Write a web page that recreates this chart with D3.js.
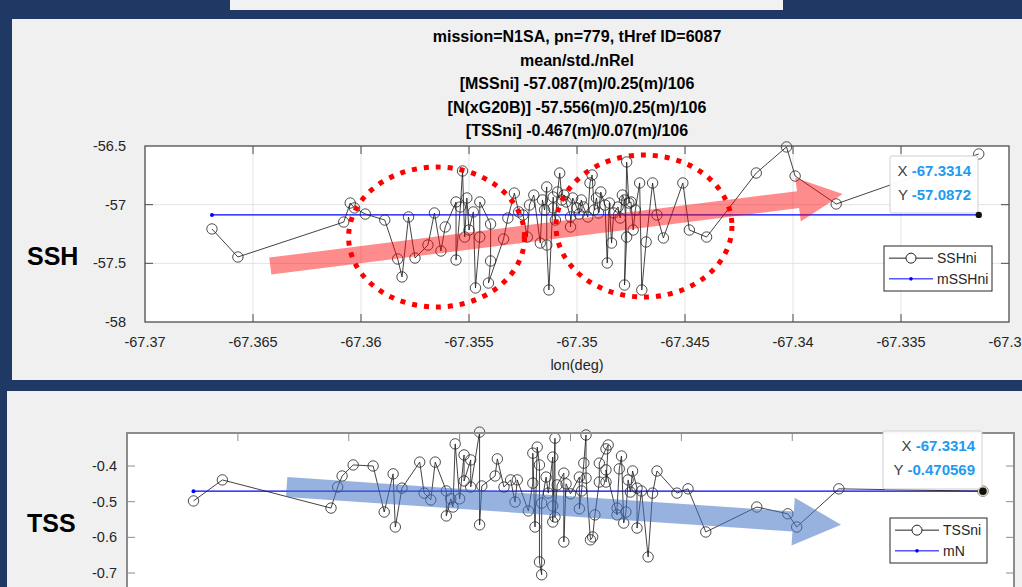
<!DOCTYPE html>
<html>
<head>
<meta charset="utf-8">
<script src="https://cdn.jsdelivr.net/npm/d3@7"></script>
<style>
  html, body { margin: 0; padding: 0; background: #1f3864; }
  svg { display: block; font-family: "Liberation Sans", Arial, sans-serif; }
</style>
</head>
<body>
<div id="chart"></div>
<script>
// ---- data ----
const lonSSH = [-67.3669,-67.3657,-67.3608,-67.3605,-67.3603,-67.3598,-67.3589,-67.3583,-67.3581,-67.3578,
  -67.3575,-67.3569,-67.3566,-67.3563,-67.3561,-67.3556,-67.3556,-67.3554,-67.3553,-67.3552,
  -67.3551,-67.3550,-67.3548,-67.3547,-67.3545,-67.3545,-67.3540,-67.3540,-67.3541,-67.3534,
  -67.3532,-67.3529,-67.3527,-67.3525,-67.3523,-67.3522,-67.3520,-67.3517,-67.3516,-67.3515,
  -67.3514,-67.3514,-67.3513,-67.3511,-67.3511,-67.3510,-67.3509,-67.3508,-67.3507,-67.3506,
  -67.3505,-67.3503,-67.3503,-67.3502,-67.3500,-67.3499,-67.3498,-67.3497,-67.3495,-67.3494,
  -67.3493,-67.3492,-67.3491,-67.3490,-67.3489,-67.3487,-67.3486,-67.3485,-67.3484,-67.3483,
  -67.3481,-67.3480,-67.3479,-67.3478,-67.3477,-67.3478,-67.3477,-67.3476,-67.3475,-67.3474,
  -67.3473,-67.3471,-67.3470,-67.3468,-67.3465,-67.3463,-67.3460,-67.3451,-67.3448,-67.3440,
  -67.3417,-67.3403,-67.3399,-67.3380,-67.3314];
const ssh = [-57.207,-57.446,-57.148,-56.986,-57.028,-57.080,-57.131,-57.463,-57.616,-57.105,
  -57.455,-57.344,-57.071,-57.395,-57.190,-56.977,-57.472,-57.020,-56.713,-57.276,
  -56.943,-57.216,-57.062,-57.710,-57.276,-56.977,-57.165,-57.480,-57.668,-57.293,
  -57.114,-56.901,-57.062,-57.088,-57.276,-57.003,-56.918,-57.327,-56.960,-57.045,
  -56.849,-57.344,-57.727,-56.935,-57.028,-57.131,-56.892,-56.730,-56.960,-56.918,
  -56.977,-57.105,-57.190,-56.943,-57.028,-57.080,-56.960,-57.020,-57.105,-56.815,
  -56.747,-57.045,-56.943,-57.071,-56.892,-57.003,-57.497,-56.986,-57.327,-57.071,
  -57.020,-57.114,-56.918,-56.960,-57.276,-57.685,-56.636,-56.986,-56.977,-57.216,
  -57.045,-56.815,-57.727,-57.318,-56.815,-57.088,-57.284,-56.815,-57.216,-57.276,
  -56.730,-56.508,-56.756,-56.994,-56.568];

const lonTSS = [-67.3670,-67.3657,-67.3608,-67.3605,-67.3603,-67.3598,-67.3589,-67.3584,-67.3580,-67.3579,
  -67.3576,-67.3568,-67.3566,-67.3563,-67.3561,-67.3556,-67.3556,-67.3554,-67.3553,-67.3552,
  -67.3550,-67.3548,-67.3548,-67.3545,-67.3545,-67.3541,-67.3541,-67.3540,-67.3534,-67.3533,
  -67.3530,-67.3527,-67.3525,-67.3524,-67.3519,-67.3517,-67.3517,-67.3516,-67.3515,-67.3514,
  -67.3514,-67.3513,-67.3513,-67.3511,-67.3510,-67.3508,-67.3508,-67.3508,-67.3507,-67.3507,
  -67.3506,-67.3503,-67.3503,-67.3502,-67.3500,-67.3496,-67.3496,-67.3495,-67.3494,-67.3493,
  -67.3493,-67.3491,-67.3490,-67.3489,-67.3487,-67.3487,-67.3484,-67.3483,-67.3484,-67.3484,
  -67.3479,-67.3479,-67.3478,-67.3477,-67.3476,-67.3475,-67.3474,-67.3473,-67.3472,-67.3470,
  -67.3470,-67.3468,-67.3465,-67.3463,-67.3461,-67.3452,-67.3447,-67.3439,-67.3416,-67.3402,
  -67.3398,-67.3379,-67.3314];
const tss = [-0.498,-0.439,-0.518,-0.459,-0.428,-0.397,-0.400,-0.529,-0.422,-0.571,
  -0.462,-0.389,-0.476,-0.495,-0.389,-0.470,-0.540,-0.492,-0.515,-0.338,
  -0.492,-0.369,-0.442,-0.383,-0.459,-0.305,-0.565,-0.456,-0.428,-0.380,
  -0.459,-0.439,-0.501,-0.439,-0.526,-0.448,-0.364,-0.571,-0.347,-0.397,
  -0.669,-0.705,-0.504,-0.431,-0.476,-0.375,-0.512,-0.557,-0.322,-0.543,
  -0.453,-0.420,-0.613,-0.450,-0.478,-0.431,-0.520,-0.470,-0.392,-0.313,
  -0.434,-0.607,-0.599,-0.537,-0.445,-0.392,-0.352,-0.341,-0.445,-0.411,
  -0.537,-0.518,-0.408,-0.372,-0.560,-0.529,-0.439,-0.473,-0.414,-0.462,
  -0.574,-0.470,-0.655,-0.476,-0.414,-0.476,-0.464,-0.585,-0.515,-0.534,
  -0.571,-0.464,-0.4706];

const meanSSH = -57.0872, meanTSS = -0.470569;
const tipLon = -67.3314;

const xTicks = [-67.37,-67.365,-67.36,-67.355,-67.35,-67.345,-67.34,-67.335,-67.33];
const xTickLabels = ["-67.37","-67.365","-67.36","-67.355","-67.35","-67.345","-67.34","-67.335","-67.33"];
const yTicksSSH = [-58,-57.5,-57,-56.5];
const yTicksTSS = [-0.8,-0.7,-0.6,-0.5,-0.4];

const titleLines = ["mission=N1SA, pn=779, tHref ID=6087","mean/std./nRel",
  "[MSSni] -57.087(m)/0.25(m)/106","[N(xG20B)] -57.556(m)/0.25(m)/106","[TSSni] -0.467(m)/0.07(m)/106"];

// ---- page ----
const W = 1022, H = 587;
const svg = d3.select('#chart').append('svg').attr('width', W).attr('height', H);
svg.append('rect').attr('width', W).attr('height', H).attr('fill', '#1f3864');
svg.append('rect').attr('x', 230).attr('y', 0).attr('width', 553).attr('height', 10).attr('fill', '#f2f2f2');
svg.append('rect').attr('x', 12).attr('y', 19).attr('width', W - 12).attr('height', 361).attr('fill', '#f0f0f0');
svg.append('rect').attr('x', 7).attr('y', 391).attr('width', W - 7).attr('height', H - 391).attr('fill', '#f0f0f0');

const axisCol = '#262626';

function arrow(g, p0, p1, shaftW, headLen, headW, fill, op) {
  const dx = p1[0] - p0[0], dy = p1[1] - p0[1], L = Math.hypot(dx, dy);
  const ux = dx / L, uy = dy / L, nx = -uy, ny = ux;
  const b = [p1[0] - ux * headLen, p1[1] - uy * headLen];
  const pts = [
    [p0[0] + nx * shaftW, p0[1] + ny * shaftW], [b[0] + nx * shaftW, b[1] + ny * shaftW],
    [b[0] + nx * headW, b[1] + ny * headW], p1,
    [b[0] - nx * headW, b[1] - ny * headW], [b[0] - nx * shaftW, b[1] - ny * shaftW],
    [p0[0] - nx * shaftW, p0[1] - ny * shaftW]];
  g.append('polygon').attr('points', pts.map(p => p.join(',')).join(' '))
    .attr('fill', fill).attr('fill-opacity', op);
}

function panel(o) {
  const x = d3.scaleLinear().domain([-67.37, -67.33]).range([o.left, o.right]);
  const y = d3.scaleLinear().domain(o.yDomain).range(o.yRange);
  const g = svg.append('g');
  const y0 = o.top, y1 = o.bottom;
  g.append('rect').attr('x', o.left).attr('y', y0).attr('width', o.right - o.left)
    .attr('height', y1 - y0).attr('fill', '#fff');

  const yt = o.yTicks.filter(d => y(d) > y0 + 1 && y(d) < y1 - 1);
  if (o.grid) {
    g.selectAll('.gx').data(xTicks.slice(1, -1)).join('line')
      .attr('x1', d => x(d)).attr('x2', d => x(d)).attr('y1', y0).attr('y2', y1)
      .attr('stroke', '#e3e3e3');
    g.selectAll('.gy').data(yt).join('line')
      .attr('x1', o.left).attr('x2', o.right).attr('y1', d => y(d)).attr('y2', d => y(d))
      .attr('stroke', '#e3e3e3');
  }

  // ticks (inward, all four sides)
  const tl = 8;
  const xt = xTicks.slice(1, -1);
  g.selectAll('.tt').data(xt).join('line').attr('x1', d => x(d)).attr('x2', d => x(d))
    .attr('y1', y0).attr('y2', y0 + tl).attr('stroke', o.border);
  if (y1 < H) {
    g.selectAll('.tb').data(xt).join('line').attr('x1', d => x(d)).attr('x2', d => x(d))
      .attr('y1', y1).attr('y2', y1 - tl).attr('stroke', o.border);
  }
  g.selectAll('.tl').data(yt).join('line').attr('x1', o.left).attr('x2', o.left + tl)
    .attr('y1', d => y(d)).attr('y2', d => y(d)).attr('stroke', o.border);
  g.selectAll('.tr').data(yt).join('line').attr('x1', o.right).attr('x2', o.right - tl)
    .attr('y1', d => y(d)).attr('y2', d => y(d)).attr('stroke', o.border);

  // y tick labels (plain hyphen minus, as in the original)
  g.selectAll('.yl').data(o.yTicks.filter(d => y(d) >= y0 - 1 && y(d) <= y1 + 1)).join('text')
    .attr('x', o.left - o.labelGap).attr('y', d => y(d) + 5).attr('text-anchor', 'end')
    .attr('font-size', 14.5).attr('fill', axisCol).text(d => String(d));

  // mean line
  const lonArr = o.lon;
  g.append('line').attr('x1', x(lonArr[0])).attr('x2', x(tipLon))
    .attr('y1', y(o.mean)).attr('y2', y(o.mean)).attr('stroke', '#0000ff').attr('stroke-width', 1.2);
  g.append('circle').attr('cx', x(lonArr[0])).attr('cy', y(o.mean)).attr('r', 2).attr('fill', '#0000ff');

  // series
  const pts = lonArr.map((d, i) => [d, o.vals[i]]);
  const line = d3.line().x(d => x(d[0])).y(d => y(d[1]));
  g.append('path').datum(pts).attr('d', line).attr('fill', 'none')
    .attr('stroke', '#222').attr('stroke-opacity', 0.85).attr('stroke-width', 1);
  g.selectAll('.pt').data(pts).join('circle').attr('cx', d => x(d[0])).attr('cy', d => y(d[1]))
    .attr('r', 5.2).attr('fill', 'none').attr('stroke', '#222').attr('stroke-opacity', 0.8).attr('stroke-width', 1);

  // border
  g.append('rect').attr('x', o.left).attr('y', y0).attr('width', o.right - o.left)
    .attr('height', y1 - y0).attr('fill', 'none').attr('stroke', o.border).attr('stroke-width', o.borderW);

  return { g, x, y };
}

// ---- SSH panel ----
const pTop = panel({ left: 145, right: 1009, top: 146, bottom: 322, yDomain: [-58, -56.5], yRange: [322, 146],
  yTicks: yTicksSSH, lon: lonSSH, vals: ssh, mean: meanSSH, grid: true, border: '#4d4d4d', borderW: 1.3, labelGap: 19 });

// ellipses and arrow annotations (data coordinates)
const ellipses = [[-67.3565, -57.276, 88, 70], [-67.3469, -57.182, 88, 71]];
pTop.g.selectAll('.el').data(ellipses).join('ellipse')
  .attr('cx', d => pTop.x(d[0])).attr('cy', d => pTop.y(d[1])).attr('rx', d => d[2]).attr('ry', d => d[3])
  .attr('fill', 'none').attr('stroke', '#ff0000').attr('stroke-width', 5).attr('stroke-dasharray', '5,7');
arrow(pTop.g, [pTop.x(-67.3642), pTop.y(-57.523)], [pTop.x(-67.3377), pTop.y(-56.909)], 8.5, 45, 22, '#ff0000', 0.45);

svg.selectAll('.xl').data(xTicks).join('text')
  .attr('x', d => pTop.x(d)).attr('y', 347).attr('text-anchor', 'middle')
  .attr('font-size', 14.5).attr('fill', axisCol).text((d, i) => xTickLabels[i]);
svg.append('text').attr('x', 577).attr('y', 370).attr('text-anchor', 'middle')
  .attr('font-size', 14.5).attr('fill', axisCol).text('lon(deg)');

svg.selectAll('.title').data(titleLines).join('text')
  .attr('x', 577).attr('y', (d, i) => 42 + i * 23.5).attr('text-anchor', 'middle')
  .attr('font-size', 16).attr('font-weight', 'bold').attr('fill', '#000').text(d => d);

svg.append('text').attr('x', 27).attr('y', 265).attr('font-size', 25).attr('font-weight', 'bold')
  .attr('fill', '#000').text('SSH');

// legends
function legend(g, lx, ly, w, h, names) {
  g.append('rect').attr('x', lx).attr('y', ly).attr('width', w).attr('height', h)
    .attr('fill', '#fff').attr('stroke', axisCol).attr('stroke-width', 1);
  const rows = [ly + h * 0.27, ly + h * 0.73];
  g.append('line').attr('x1', lx + 5).attr('x2', lx + 49).attr('y1', rows[0]).attr('y2', rows[0]).attr('stroke', '#222');
  g.append('circle').attr('cx', lx + 27).attr('cy', rows[0]).attr('r', 5).attr('fill', '#fff').attr('stroke', '#222');
  g.append('line').attr('x1', lx + 5).attr('x2', lx + 49).attr('y1', rows[1]).attr('y2', rows[1]).attr('stroke', '#0000ff');
  g.append('circle').attr('cx', lx + 27).attr('cy', rows[1]).attr('r', 1.8).attr('fill', '#0000ff');
  g.selectAll('.lt').data(names).join('text').attr('x', lx + 53).attr('y', (d, i) => rows[i] + 5)
    .attr('font-size', 14).attr('fill', axisCol).text(d => d);
}
legend(pTop.g, 884, 246, 108, 45, ['SSHni', 'mSSHni']);

function datatip(p, bx, by, bw, bh, xv, yv) {
  p.g.append('rect').attr('x', bx).attr('y', by).attr('width', bw).attr('height', bh).attr('rx', 2)
    .attr('fill', '#fff').attr('fill-opacity', 0.95).attr('stroke', '#cfcfcf');
  const tx = bx + bw - 7;
  [['X ', xv], ['Y ', yv]].forEach((r, i) => {
    const t = p.g.append('text').attr('x', tx).attr('y', by + 20 + i * 24).attr('text-anchor', 'end').attr('font-size', 15);
    t.append('tspan').attr('fill', '#404040').text(r[0]);
    t.append('tspan').attr('fill', '#1e9bf0').attr('font-weight', 'bold').text(r[1]);
  });
}
datatip(pTop, 890, 156, 88, 57, '-67.3314', '-57.0872');
pTop.g.append('circle').attr('cx', pTop.x(tipLon)).attr('cy', pTop.y(meanSSH)).attr('r', 3.2).attr('fill', '#111');

// ---- TSS panel ----
const pBot = panel({ left: 127, right: 1014, top: 433, bottom: 600, yDomain: [-0.7, -0.4], yRange: [573, 466],
  yTicks: yTicksTSS, lon: lonTSS, vals: tss, mean: meanTSS, grid: false, border: '#8c8c8c', borderW: 2, labelGap: 10 });
arrow(pBot.g, [pBot.x(-67.3628), pBot.y(-0.459)], [pBot.x(-67.3378), pBot.y(-0.565)], 10, 48, 24, '#4472c4', 0.55);
legend(pBot.g, 890, 518, 97, 45, ['TSSni', 'mN']);
datatip(pBot, 883, 431, 99, 58, '-67.3314', '-0.470569');
pBot.g.append('circle').attr('cx', pBot.x(tipLon)).attr('cy', pBot.y(meanTSS)).attr('r', 4.5)
  .attr('fill', '#111').attr('stroke', '#d8d2b0').attr('stroke-width', 1.5);

svg.append('text').attr('x', 27).attr('y', 532).attr('font-size', 25).attr('font-weight', 'bold')
  .attr('fill', '#000').text('TSS');
</script>
</body>
</html>
